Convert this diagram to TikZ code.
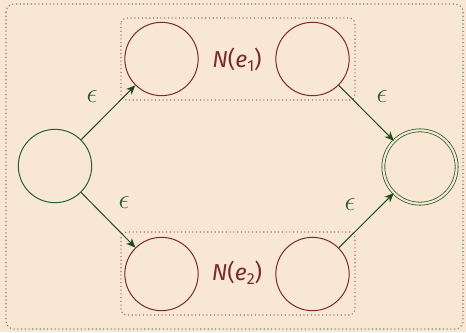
\documentclass[tikz,border=0pt]{standalone}
\usepackage{fontspec}
\setmainfont{Fira Sans}
\usetikzlibrary{arrows.meta}
\definecolor{bg}{HTML}{F8E8D3}
\definecolor{grn}{HTML}{2F5F2F}
\definecolor{dgrn}{HTML}{1E4A1E}
\definecolor{mar}{HTML}{7A2A2E}
\definecolor{outerdot}{HTML}{6E7A6A}
\tikzset{
  px/.style={x=0.75pt,y=-0.75pt},
  state/.style={circle,draw=grn,line width=0.75pt,minimum size=55pt,inner sep=0pt},
  nstate/.style={circle,draw=mar,line width=0.75pt,minimum size=55pt,inner sep=0pt},
  accstate/.style={circle,draw=grn,line width=0.6pt,double=bg,double distance=1.6pt,minimum size=55pt,inner sep=0pt},
  trans/.style={draw=dgrn,line width=0.75pt,-{Stealth[length=7pt,width=6pt]}},
  lab/.style={text=grn,font=\huge},
  nlab/.style={text=mar,font=\LARGE},
  nbox/.style={draw=mar!70,dotted,line width=0.8pt,rounded corners=4pt},
}
\newcommand{\mysub}[1]{\raisebox{-0.35ex}{\large #1}}
\begin{document}
\begin{tikzpicture}[px]
\useasboundingbox (0,0) rectangle (466,332);
\fill[bg] (0,0) rectangle (466,332);
\draw[outerdot,dotted,line width=0.8pt,rounded corners=6pt] (6,4) rectangle (463,329);
\draw[nbox] (121,18) rectangle (355,100);
\draw[nbox] (121,232) rectangle (355,315);
\node[state] (s) at (55,166) {};
\node[nstate] (a1) at (161.5,59) {};
\node[nstate] (b1) at (312.5,59) {};
\node[nstate] (a2) at (161.5,274) {};
\node[nstate] (b2) at (312.5,274) {};
\node[accstate] (f) at (420,167) {};
\node[nlab] (n1) at (237,60) {\textit{N}(\textit{e}\mysub{1})};
\node[nlab] (n2) at (237,273) {\textit{N}(\textit{e}\mysub{2})};
\draw[trans] (s) -- (a1);
\draw[trans] (s) -- (a2);
\draw[trans] (b1) -- (f);
\draw[trans] (b2) -- (f);
\node[lab] (e1) at (92,97) {$\epsilon$};
\node[lab] (e2) at (124,203) {$\epsilon$};
\node[lab] (e3) at (382,97) {$\epsilon$};
\node[lab] (e4) at (350,205) {$\epsilon$};
\end{tikzpicture}
\end{document}
